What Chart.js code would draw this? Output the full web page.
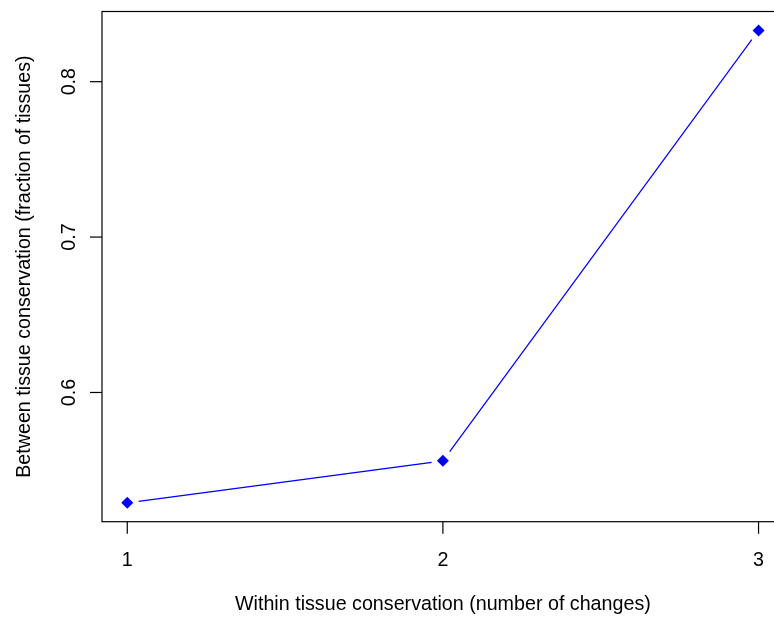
<!DOCTYPE html>
<html lang="en">
<head>
<meta charset="UTF-8" />
<title>Between vs within tissue conservation</title>
<script src="https://cdn.jsdelivr.net/npm/chart.js@4.4.0/dist/chart.umd.min.js"></script>
<style>
html, body { margin: 0; padding: 0; background: #fff; overflow: hidden; }
/* plot region runs past the right edge of the window, as in the original */
.chart-box { position: relative; width: 800px; height: 619px; }
</style>
</head>
<body>
<div class="chart-box"><canvas id="chart"></canvas></div>

<script>
// data
const changes  = [1, 2, 3];
const fraction = [0.529, 0.556, 0.833];
const xTicks = [1, 2, 3];
const yTicks = [0.6, 0.7, 0.8];
const xTitle = 'Within tissue conservation (number of changes)';
const yTitle = 'Between tissue conservation (fraction of tissues)';

// R style axis range: data range padded by 4% each side
function padRange(vals) {
  const lo = Math.min(...vals), hi = Math.max(...vals), d = (hi - lo) * 0.04;
  return [lo - d, hi + d];
}
const [xMin, xMax] = padRange(changes);
const [yMin, yMax] = padRange(fraction);

const pts = changes.map((x, i) => ({x: x, y: fraction[i]}));
const FONT = '19.7px "Liberation Sans", Arial, Helvetica, sans-serif';

// box, ticks, labels drawn the base R way
const rAxes = {
  id: 'rAxes',
  afterDraw(chart) {
    const {ctx, chartArea: a, scales} = chart;
    const sx = scales.x, sy = scales.y;
    ctx.save();
    ctx.strokeStyle = '#000';
    ctx.fillStyle = '#000';
    ctx.lineWidth = 1.2;
    ctx.strokeRect(a.left, a.top, a.right - a.left, a.bottom - a.top);

    ctx.font = FONT;
    ctx.textBaseline = 'alphabetic';
    ctx.textAlign = 'center';

    xTicks.forEach(v => {
      const px = sx.getPixelForValue(v);
      ctx.beginPath();
      ctx.moveTo(px, a.bottom);
      ctx.lineTo(px, a.bottom + 12);
      ctx.stroke();
      ctx.fillText(String(v), px, 566);
    });

    yTicks.forEach(v => {
      const py = sy.getPixelForValue(v);
      ctx.beginPath();
      ctx.moveTo(a.left, py);
      ctx.lineTo(a.left - 12, py);
      ctx.stroke();
      ctx.save();
      ctx.translate(75, py);
      ctx.rotate(-Math.PI / 2);
      ctx.fillText(v.toFixed(1), 0, 0);
      ctx.restore();
    });

    ctx.fillText(xTitle, (a.left + a.right) / 2, 610);
    ctx.save();
    ctx.translate(30, (a.top + a.bottom) / 2);
    ctx.rotate(-Math.PI / 2);
    ctx.fillText(yTitle, 0, 0);
    ctx.restore();
    ctx.restore();
  }
};

new Chart(document.getElementById('chart'), {
  type: 'line',
  data: {
    datasets: [
      { // diamonds on top
        data: pts, showLine: false,
        pointStyle: 'rectRot', pointRadius: 6, pointHoverRadius: 6,
        pointBackgroundColor: '#0000ff', pointBorderWidth: 0
      },
      { // line with gaps round the points (type = "b")
        data: pts, borderColor: '#0000ff', borderWidth: 1.2,
        pointRadius: 11.5, pointHoverRadius: 11.5,
        pointBackgroundColor: '#fff', pointBorderWidth: 0,
        tension: 0
      }
    ]
  },
  options: {
    responsive: true,
    maintainAspectRatio: false,
    animation: false,
    devicePixelRatio: 1,
    layout: { padding: { left: 102, right: 16.2, top: 9.5, bottom: 97.3 } },
    scales: {
      x: { type: 'linear', min: xMin, max: xMax, display: false },
      y: { type: 'linear', min: yMin, max: yMax, display: false }
    },
    plugins: { legend: { display: false }, tooltip: { enabled: false } },
    events: []
  },
  plugins: [rAxes]
});
</script>
</body>
</html>
